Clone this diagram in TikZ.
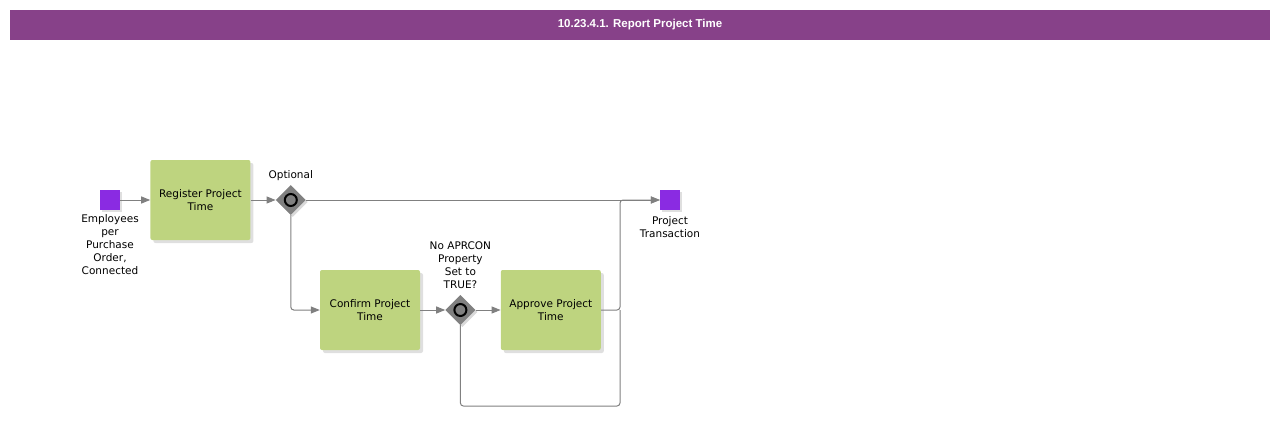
\documentclass[tikz,border=0pt]{standalone}
\usepackage{fontspec}
\setmainfont{DejaVu Sans}
\newfontfamily\bannerfont{Liberation Sans}
\usetikzlibrary{arrows.meta,positioning,shapes.geometric,shadows}
\definecolor{bannerpurple}{HTML}{874189}
\definecolor{eventpurple}{HTML}{8A2BE2}
\definecolor{taskgreen}{HTML}{BED47F}
\definecolor{flowgray}{HTML}{808080}

\begin{document}
\begin{tikzpicture}[x=1pt, y=-1pt,
  task/.style={fill=taskgreen, rounded corners=2pt, minimum width=100pt,
               minimum height=80pt, align=center, inner sep=2pt,
               font=\fontsize{10.5}{13}\selectfont,
               drop shadow={shadow xshift=3pt, shadow yshift=-3pt, opacity=0.25}},
  event/.style={fill=eventpurple, minimum size=20pt, inner sep=0pt,
                drop shadow={shadow xshift=2pt, shadow yshift=-2pt, opacity=0.25}},
  gateway/.style={diamond, fill=flowgray, minimum size=30pt, inner sep=0pt,
                  drop shadow={shadow xshift=2pt, shadow yshift=-2pt, opacity=0.3}},
  lbl/.style={align=center, inner sep=0pt, font=\fontsize{10.5}{13}\selectfont},
  flow/.style={draw=flowgray, line width=1pt, rounded corners=3pt,
               -{Triangle[length=9pt, width=7pt]}},
  link/.style={draw=flowgray, line width=1pt, rounded corners=3pt},
  node distance=30pt
]
\useasboundingbox (0,0) rectangle (1280,436);

\node[fill=bannerpurple, minimum width=1260pt, minimum height=30pt, inner sep=0pt,
      text=white, font=\bannerfont\bfseries\fontsize{11.5}{13}\selectfont]
  (banner) at (640,25) {10.23.4.1. Report Project Time};

% upper lane
\node[event] (start) at (110,200) {};
\node[task, right=of start] (register) {Register Project\\Time};
\node[gateway, right=25pt of register] (optional) {};
\node[event] (finish) at (670,200) {};

% lower lane
\node[task] (confirm) at (370,310) {Confirm Project\\Time};
\node[gateway, right=25pt of confirm] (aprcon) {};
\node[task, right=25pt of aprcon] (approve) {Approve Project\\Time};

\draw[line width=2pt, fill=flowgray] (optional) circle (6pt);
\draw[line width=2pt, fill=flowgray] (aprcon) circle (6pt);

% labels
\node[lbl, below=4pt of start] (startlbl) {Employees\\per\\Purchase\\Order,\\Connected};
\node[lbl, above=4pt of optional] (optlbl) {Optional};
\node[lbl, below=6pt of finish] (finishlbl) {Project\\Transaction};
\node[lbl, above=6pt of aprcon] (aprconlbl) {No APRCON\\Property\\Set to\\TRUE?};

\coordinate (join) at (620,200);
\coordinate (back) at (620,406);

\draw[flow] (start) -- (register);
\draw[flow] (register) -- (optional);
\draw[flow] (optional) -- (finish);
\draw[flow] (optional.south) |- (confirm.west);
\draw[flow] (confirm) -- (aprcon);
\draw[flow] (aprcon) -- (approve);
\draw[flow] (approve.east) -| (join) -- (finish.west);
\draw[link] (aprcon.south) |- (back) -- (approve.east -| back);
\end{tikzpicture}
\end{document}
